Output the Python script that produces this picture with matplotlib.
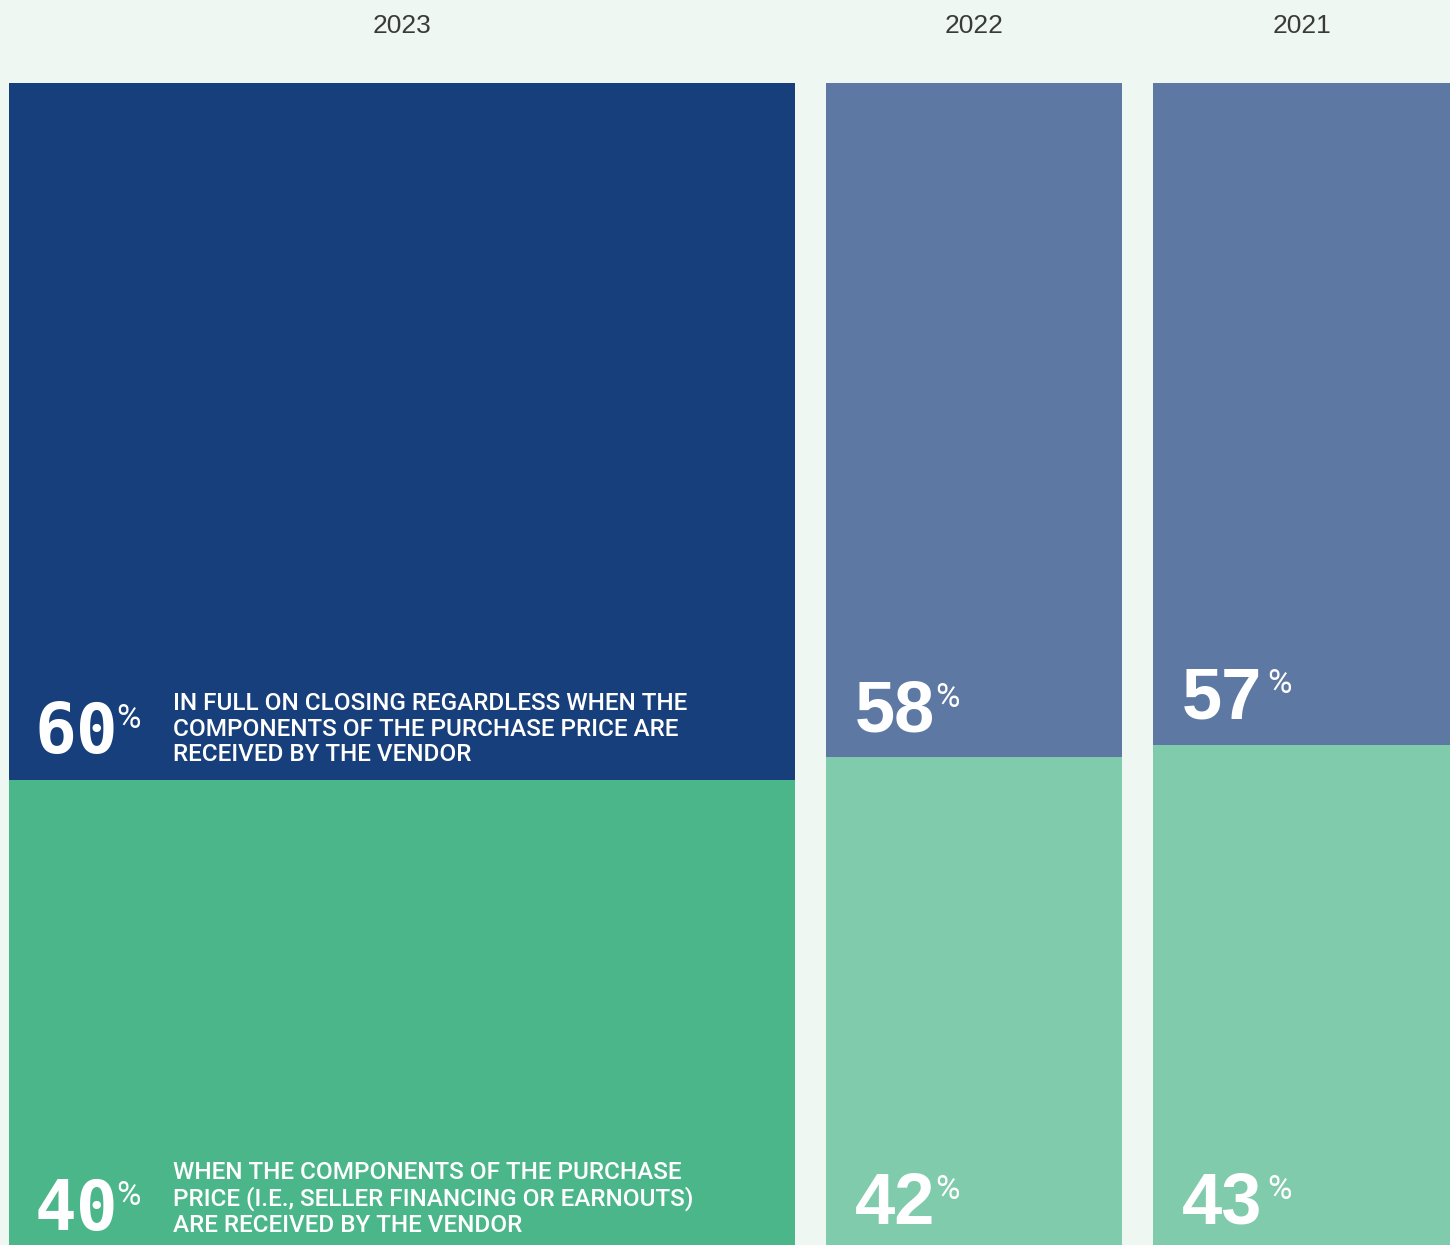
import matplotlib.pyplot as plt
from matplotlib.transforms import offset_copy

years = ['2023', '2022', '2021']
in_full = [60, 58, 57]
on_receipt = [40, 42, 43]
desc_full = 'IN FULL ON CLOSING REGARDLESS WHEN THE\nCOMPONENTS OF THE PURCHASE PRICE ARE\nRECEIVED BY THE VENDOR'
desc_receipt = 'WHEN THE COMPONENTS OF THE PURCHASE\nPRICE (I.E., SELLER FINANCING OR EARNOUTS)\nARE RECEIVED BY THE VENDOR'

# column layout (pixel units along x)
lefts = [9, 826, 1153]
widths = [786, 296, 297]
top_colors = ['#173f7b', '#5d79a3', '#5d79a3']
bot_colors = ['#4ab68a', '#81cbad', '#81cbad']
bg = '#eef7f2'

W, H = 1450, 1245
fig = plt.figure(figsize=(W / 100, H / 100), dpi=100, facecolor=bg)
ax = fig.add_axes([0, 0, 1, (H - 83) / H])
ax.set_facecolor(bg)
ax.set_xlim(0, W)
ax.set_ylim(0, 100)
ax.axis('off')

ax.bar(lefts, on_receipt, width=widths, align='edge', color=bot_colors, lw=0)
ax.bar(lefts, in_full, width=widths, bottom=on_receipt, align='edge',
       color=top_colors, lw=0)

for left, w, yr in zip(lefts, widths, years):
    fig.text((left + w / 2) / W, 1 - 26 / H, yr, ha='center', va='center',
             fontsize=19, color='#3a3a3a', family='Liberation Sans')

fig.canvas.draw()
renderer = fig.canvas.get_renderer()


def shifted(dy):
    # dy in pixels, upwards
    return offset_copy(ax.transData, fig=fig, x=0, y=dy * 0.72, units='points')


def big_label(x, y, dy, value, mono, pct_gap):
    fam = 'DejaVu Sans Mono' if mono else 'Liberation Sans'
    tr = shifted(dy)
    t = ax.text(x, y, str(value), transform=tr, ha='left', va='baseline',
                fontsize=50 if mono else 52, fontweight='bold', color='white',
                family=fam)
    bb = t.get_window_extent(renderer)
    base = tr.transform((x, y))[1]
    ax.text(bb.x1 + pct_gap, base + 25, '%', transform=None,
            ha='left', va='baseline', fontsize=24, color='white',
            family='Roboto')


# 2023 column with descriptions
big_label(35, on_receipt[0], 27, in_full[0], True, -2)
big_label(35, 0, 15, on_receipt[0], True, -2)
for y, dy, txt in [(on_receipt[0], 19, desc_full), (0, 13, desc_receipt)]:
    ax.text(173, y, txt, transform=shifted(dy), ha='left', va='baseline',
            fontsize=17.5, color='white', family='Roboto', fontweight='medium',
            linespacing=1.14)

# 2022 and 2021 columns
for i, gap, up in [(1, 0, 25), (2, 5, 27)]:
    x = lefts[i] + 29
    big_label(x, on_receipt[i], up, in_full[i], False, gap)
    big_label(x, 0, 21, on_receipt[i], False, gap)

fig.savefig('out.png', dpi=100, facecolor=bg)
